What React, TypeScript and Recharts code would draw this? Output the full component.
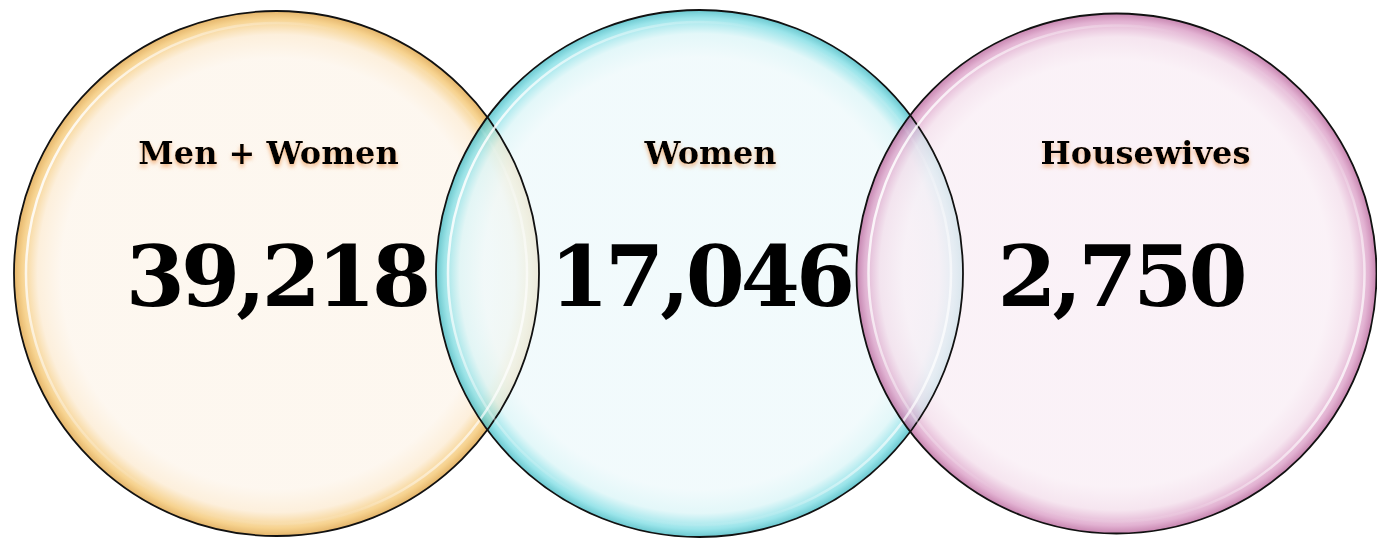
import React from 'react';
import { ScatterChart, Scatter, XAxis, YAxis } from 'recharts';

const W = 1377;
const H = 538;

const categories = ['Men + Women', 'Women', 'Housewives'];
const counts = [39218, 17046, 2750];
const centerX = [276.5, 699.5, 1116.5];
const centerY = [264.5, 264.5, 264.5];
const radius = [262.5, 263.5, 260];

const labelDx = [-8, 11, 29];
const numberDx = [0, 1, 4];

const palette = [
  { inner: '#FDF5EB', mid: '#FCEBD2', rim: '#F4C670', edge: '#DDA040' },
  { inner: '#EEF9FB', mid: '#DBF5F7', rim: '#7EDDE4', edge: '#40B8C2' },
  { inner: '#F9EEF5', mid: '#F3DEEB', rim: '#DA9CC5', edge: '#B8639A' },
];

const points = categories.map((c, i) => ({
  x: centerX[i],
  y: centerY[i],
  r: radius[i],
  label: c,
  value: counts[i],
  idx: i,
}));

const BubbleFill = (props: any) => {
  const { cx, cy, payload } = props;
  if (cx == null || cy == null) return null;
  const i = payload.idx;
  return <circle cx={cx} cy={cy} r={payload.r} fill={`url(#fill${i})`} fillOpacity={0.78} />;
};

const BubbleEdge = (props: any) => {
  const { cx, cy, payload } = props;
  if (cx == null || cy == null) return null;
  const i = payload.idx;
  const r = payload.r;
  return (
    <g>
      <circle cx={cx} cy={cy} r={r - 12} fill="none" stroke={`url(#hl${i})`} strokeWidth={2.5} />
      <circle cx={cx} cy={cy} r={r} fill="none" stroke="#111111" strokeWidth={1.8} />
    </g>
  );
};

const Texts = (props: any) => {
  const { cx, cy, payload } = props;
  if (cx == null || cy == null) return null;
  const i = payload.idx;
  return (
    <g>
      <text
        x={cx + labelDx[i]}
        y={cy - 110}
        textAnchor="middle"
        fontFamily="'DejaVu Serif', serif"
        fontWeight="bold"
        fontSize={32}
        fill="#000"
        filter="url(#glow)"
      >
        {payload.label}
      </text>
      <text
        x={cx + numberDx[i]}
        y={cy + 32}
        textAnchor="middle"
        fontFamily="'DejaVu Serif', serif"
        fontWeight="bold"
        fontSize={85}
        letterSpacing={-4}
        fill="#000"
      >
        {payload.value.toLocaleString('en-US')}
      </text>
    </g>
  );
};

export default function App() {
  return (
    <div style={{ position: 'absolute', left: 0, top: 0, width: W, height: H, background: '#fff' }}>
      <ScatterChart width={W} height={H} margin={{ top: 0, right: 0, bottom: 0, left: 0 }}>
        <defs>
          {palette.map((p, i) => (
            <radialGradient key={`f${i}`} id={`fill${i}`} cx="50%" cy="50%" r="50%">
              <stop offset="0%" stopColor={p.inner} />
              <stop offset="82%" stopColor={p.inner} />
              <stop offset="91%" stopColor={p.mid} />
              <stop offset="97%" stopColor={p.rim} />
              <stop offset="100%" stopColor={p.edge} />
            </radialGradient>
          ))}
          {palette.map((p, i) => (
            <linearGradient key={`h${i}`} id={`hl${i}`} x1="0" y1="0.3" x2="1" y2="0.7">
              <stop offset="0%" stopColor="#ffffff" stopOpacity={0.95} />
              <stop offset="22%" stopColor="#ffffff" stopOpacity={0.35} />
              <stop offset="45%" stopColor="#ffffff" stopOpacity={0} />
              <stop offset="80%" stopColor="#ffffff" stopOpacity={0.1} />
              <stop offset="100%" stopColor="#ffffff" stopOpacity={0.85} />
            </linearGradient>
          ))}
          <filter id="glow" x="-10%" y="-30%" width="120%" height="180%">
            <feDropShadow dx="0" dy="3" stdDeviation="2" floodColor="#F0A060" floodOpacity={0.75} />
          </filter>
        </defs>
        <XAxis type="number" dataKey="x" domain={[0, W]} hide />
        <YAxis type="number" dataKey="y" domain={[0, H]} hide />
        <Scatter data={points} shape={BubbleFill} isAnimationActive={false} />
        <Scatter data={points} shape={BubbleEdge} isAnimationActive={false} />
        <Scatter data={points} shape={Texts} isAnimationActive={false} />
      </ScatterChart>
    </div>
  );
}
